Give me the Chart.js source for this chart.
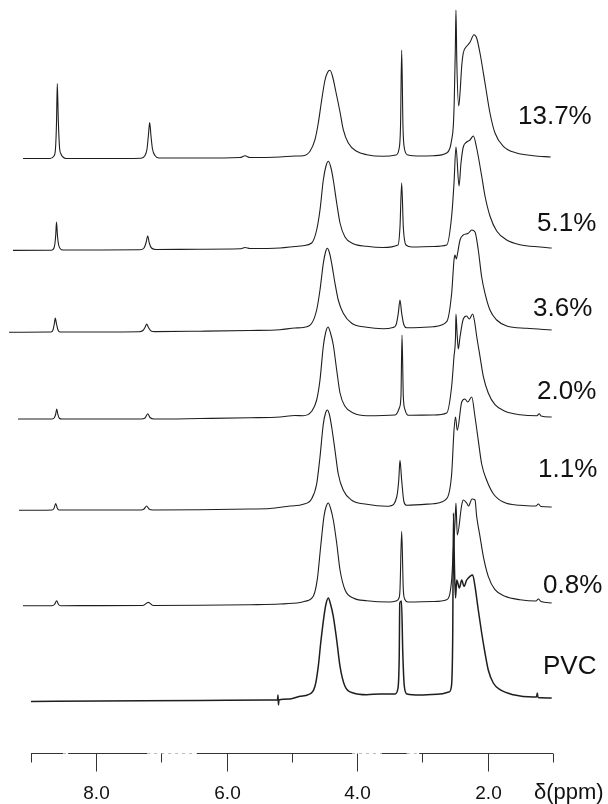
<!DOCTYPE html>
<html>
<head>
<meta charset="utf-8">
<script src="https://cdn.jsdelivr.net/npm/chart.js@4.4.1/dist/chart.umd.min.js"></script>
<style>
  html, body { margin: 0; padding: 0; background: #fff; }
  canvas { display: block; }
</style>
</head>
<body>
<canvas id="nmrChart" width="608" height="804"></canvas>
<script>
// 1H NMR spectra, stacked: [ppm, intensity above the trace baseline]

const traceLabels = ['13.7%', '5.1%', '3.6%', '2.0%', '1.1%', '0.8%', 'PVC'];
const traceOffsets = [647, 556, 474, 387, 297, 201, 106];

const spec137 = [
    [9.123,-1.5],[8.709,-1.5],[8.648,1],[8.625,8],[8.609,34],[8.597,73.5],[8.582,38],[8.563,10],[8.540,3],[8.510,0],[8.464,-1.5],
    [7.943,-1.5],[7.314,-1.2],[7.253,1.5],[7.222,8],[7.199,23],[7.181,34.5],[7.161,21],[7.138,8],[7.100,1.5],[7.038,-1],
    [6.410,-1],[5.797,-0.5],[5.720,1.2],[5.644,-0.5],[5.184,0],[4.954,1],
    [4.827,1.3],[4.724,5.7],[4.648,17.3],[4.597,34],[4.545,57],[4.494,77],[4.456,84.5],[4.418,86.7],[4.380,81],[4.330,66],[4.264,45],[4.214,27.3],[4.137,14],[4.009,5.7],[3.855,2.3],[3.605,0.7],
    [3.406,2],[3.360,8],[3.337,30],[3.319,107],[3.299,30],[3.276,8],[3.222,2],[3.038,1],
    [2.834,1.3],[2.629,4],[2.579,9],[2.553,17.3],[2.528,30.7],[2.513,57],[2.497,107],[2.487,147],[2.474,95],[2.445,51],[2.425,64],[2.399,90.7],[2.375,104],[2.323,110.7],[2.272,114.7],[2.211,122.3],[2.170,119],[2.119,104],[2.042,74],[1.966,44],[1.889,24],[1.761,10.7],[1.556,4],[1.302,1.3],[1.035,0]
];

const spec51 = [
    [9.276,-2.4],[8.709,-2.2],[8.678,-2],[8.648,0],[8.632,5],[8.620,14],[8.609,26],[8.594,12],[8.576,3],[8.548,-1],[8.510,-2],
    [7.943,-2],[7.330,-1.8],[7.268,0],[7.238,5],[7.211,12],[7.187,5],[7.153,0],[7.084,-1.5],
    [6.410,-1.2],[5.797,-0.8],[5.720,0.5],[5.644,-0.5],[5.184,0],[4.954,1.5],
    [4.831,2.3],[4.698,5],[4.622,18],[4.571,38],[4.520,68],[4.479,82],[4.443,86.7],[4.402,80],[4.367,68],[4.315,45],[4.264,25],[4.188,11],[4.060,4.3],[3.855,1.7],[3.605,0.5],
    [3.375,3],[3.345,21],[3.319,65],[3.294,21],[3.253,3],[3.161,1],
    [2.834,1.5],[2.629,3],[2.553,32],[2.517,65],[2.487,101],[2.440,62],[2.410,85],[2.375,101],[2.323,106],[2.272,108],[2.221,112],[2.170,100],[2.093,72],[2.042,52],[1.966,32],[1.863,17],[1.709,8],[1.506,3.3],[1.199,1],[1.020,0]
];

const spec36 = [
    [9.337,-2.3],[8.709,-2],[8.693,-2],[8.663,0],[8.643,6],[8.628,12],[8.609,6],[8.586,0],[8.556,-2],
    [7.943,-2],[7.345,-1.8],[7.284,-0.5],[7.249,3],[7.228,6],[7.199,2.5],[7.161,-1],[7.100,-1.6],
    [6.410,-1.2],[5.644,-0.5],[5.184,0.3],[4.954,2],
    [4.827,2.5],[4.698,6.7],[4.622,20],[4.571,40],[4.520,66.7],[4.486,78],[4.459,81.7],[4.425,77],[4.392,66.7],[4.341,46.7],[4.291,30],[4.214,16.7],[4.085,6.7],[3.855,2.7],[3.605,1.3],
    [3.452,2.5],[3.406,5],[3.371,16.7],[3.345,30],[3.319,16.7],[3.284,5],[3.242,2.3],[3.038,2.5],
    [2.834,3.3],[2.629,8.3],[2.553,36.7],[2.517,70],[2.502,75],[2.482,71],[2.464,76],[2.425,90],[2.375,95],[2.298,96.7],[2.246,100],[2.195,98],[2.145,80],[2.093,53],[2.042,36.7],[1.966,20],[1.863,10],[1.709,4],[1.403,1.7],[1.020,0]
];

const spec20 = [
    [9.199,-2],[8.678,-2],[8.640,-0.5],[8.621,3],[8.606,8],[8.589,3],[8.563,-1.5],[8.525,-2],
    [7.943,-2],[7.314,-2],[7.253,-1],[7.211,3.3],[7.176,-0.5],[7.115,-2],
    [6.410,-1.5],[5.644,-0.8],[5.184,0],[4.954,1.5],
    [4.831,1.3],[4.698,5.7],[4.622,17],[4.571,37],[4.520,70.7],[4.486,84],[4.448,90],[4.410,84],[4.367,72],[4.315,47],[4.264,24],[4.188,10.7],[4.060,4],[3.855,1.3],
    [3.421,2],[3.355,9],[3.330,20.7],[3.314,82],[3.294,20.7],[3.268,7.3],[3.217,1.7],
    [2.834,2],[2.629,4],[2.553,30.7],[2.517,60.7],[2.494,80],[2.487,103],[2.471,85],[2.451,68],[2.425,80],[2.375,98],[2.323,101],[2.283,98],[2.231,103],[2.203,96],[2.170,81],[2.119,60.7],[2.068,40.7],[1.992,24],[1.889,12.3],[1.736,5.7],[1.506,2.3],[1.245,1.3],[1.210,3.3],[1.184,1],[1.020,0]
];

const spec11 = [
    [9.184,-3.3],[8.678,-3],[8.648,-1.5],[8.621,3.5],[8.598,-1],[8.571,-3],
    [7.943,-3],[7.314,-3],[7.268,-2],[7.228,1],[7.192,-2],[7.130,-3],
    [6.410,-2.8],[5.644,-2],[5.337,-1.5],[5.031,1],
    [4.827,2.7],[4.698,8.3],[4.622,23],[4.571,50],[4.520,83],[4.486,94],[4.459,97],[4.425,92],[4.392,80],[4.341,56.7],[4.291,33],[4.214,16.7],[4.085,6.7],[3.855,2.7],[3.548,0.7],
    [3.498,1],[3.395,10],[3.364,26.7],[3.345,46.7],[3.319,26.7],[3.284,5],[3.242,1.7],
    [2.834,3.3],[2.629,8.3],[2.553,33],[2.517,76.7],[2.494,90],[2.467,76.7],[2.399,105],[2.349,108],[2.307,105],[2.246,110],[2.195,90],[2.145,66.7],[2.093,43],[2.016,26.7],[1.915,13.3],[1.762,5],[1.506,1.7],[1.261,1],[1.225,3],[1.184,0.5],[1.020,0]
];

const spec08 = [
    [9.123,-2.7],[8.678,-2.7],[8.640,-1.5],[8.606,2.3],[8.579,-1.5],[8.540,-2.7],
    [7.943,-2.6],[7.284,-2.5],[7.202,0.6],[7.130,-2.5],
    [6.410,-2.3],[5.644,-1.7],[5.184,-1],[4.877,0.5],
    [4.801,1.7],[4.674,6.7],[4.613,23.3],[4.560,56.7],[4.510,86.7],[4.479,96],[4.443,100],[4.410,95],[4.367,83],[4.315,60],[4.264,33],[4.188,13.3],[4.060,5],[3.855,2.3],[3.498,1],
    [3.406,2],[3.360,5],[3.345,13.3],[3.319,71.7],[3.294,13.3],[3.268,3.3],[3.222,1],
    [2.834,1.5],[2.629,3.3],[2.553,23.3],[2.528,53],[2.502,80],[2.487,100],[2.467,68],[2.399,98],[2.375,103],[2.323,100],[2.295,97],[2.241,104],[2.195,103],[2.170,86.7],[2.119,66.7],[2.068,46.7],[1.992,26.7],[1.889,13.3],[1.736,6.7],[1.506,3.3],[1.261,2],[1.225,4],[1.184,1.5],[1.020,0]
];

const specPVC = [
    [9.000,-3.4],[7.943,-3],[6.410,-2.5],[5.337,-2],[5.222,-2],[5.215,3],[5.207,-7],[5.200,-2],[5.031,-1],[4.877,1.7],
    [4.750,3.3],[4.648,11.7],[4.597,31.7],[4.560,55],[4.510,81.7],[4.479,94],[4.443,100],[4.410,94],[4.367,81.7],[4.315,58],[4.264,31.7],[4.188,11.7],[4.060,5],[3.855,3.3],[3.651,4],[3.498,4],
    [3.421,4],[3.375,10],[3.357,40],[3.348,95],[3.322,97],[3.302,45],[3.279,12],[3.238,4],[3.038,3],
    [2.732,4],[2.594,6],[2.556,12],[2.537,60],[2.525,185],[2.510,130],[2.494,100],[2.475,118],[2.435,110],[2.399,118],[2.364,111.7],[2.323,118],[2.272,121.7],[2.231,123],[2.195,111.7],[2.145,88],[2.093,65],[2.042,45],[1.992,28],[1.915,15],[1.812,8.3],[1.608,3.3],[1.302,1],[1.253,1],[1.240,5],[1.230,0.5],[1.020,0]
];

const spectra = [spec137, spec51, spec36, spec20, spec11, spec08, specPVC];

// axis ticks (ppm)
const tickValues = [9, 8, 7, 6, 5, 4, 3, 2, 1];
const tickLabels = ['', '8.0', '', '6.0', '', '4.0', '', '2.0', ''];
// stretches where the printed axis line is missing (ppm from, ppm to)
const axisGaps = [[8.51, 8.43], [7.22, 6.46], [4.08, 3.62], [3.24, 3.05]];

// layout of the text (pixels)
const axisLevel = 51;
const labelLeft = [518, 537, 533, 537, 538, 543, 543];
const labelRise = [33, 17, 14, 18, 30, 10, 24];

const FONT = "'Liberation Sans', Arial, Helvetica, sans-serif";

const datasets = spectra.map((spec, i) => ({
    label: traceLabels[i],
    data: spec.map(([p, h]) => ({ x: p, y: traceOffsets[i] + h })),
    borderColor: '#1e1e1e',
    borderWidth: i === spectra.length - 1 ? 1.5 : 1.1,
    backgroundColor: '#ffffff',
    fill: 'start',
    pointRadius: 0,
    cubicInterpolationMode: 'monotone',
    // lower traces sit in front of the upper ones
    order: spectra.length - i
}));

const nmrDecor = {
    id: 'nmrDecor',
    afterDraw(chart) {
        const { ctx, scales: { x, y } } = chart;
        ctx.save();

        // ppm axis, drawn piecewise between the gaps
        const ay = Math.round(y.getPixelForValue(axisLevel)) + 0.5;
        ctx.strokeStyle = '#333';
        ctx.lineWidth = 1;
        let from = tickValues[0];
        const pieces = [];
        axisGaps.forEach(([a, b]) => { pieces.push([from, a]); from = b; });
        pieces.push([from, tickValues[tickValues.length - 1]]);
        pieces.forEach(([a, b]) => {
            ctx.beginPath();
            ctx.moveTo(x.getPixelForValue(a), ay);
            ctx.lineTo(x.getPixelForValue(b), ay);
            ctx.stroke();
        });
        ctx.strokeStyle = '#bbb';
        axisGaps.forEach(([a, b]) => {
            ctx.beginPath();
            ctx.setLineDash([3, 4]);
            ctx.moveTo(x.getPixelForValue(a), ay);
            ctx.lineTo(x.getPixelForValue(b), ay);
            ctx.stroke();
        });
        ctx.setLineDash([]);
        ctx.strokeStyle = '#333';

        ctx.fillStyle = '#111';
        ctx.font = '19px ' + FONT;
        ctx.textAlign = 'center';
        ctx.textBaseline = 'alphabetic';
        tickValues.forEach((v, k) => {
            const px = Math.round(x.getPixelForValue(v)) + 0.5;
            const len = tickLabels[k] ? 18 : 9;
            ctx.beginPath();
            ctx.moveTo(px, ay);
            ctx.lineTo(px, ay + len);
            ctx.stroke();
            if (tickLabels[k]) ctx.fillText(tickLabels[k], px, ay + 45);
        });
        ctx.textAlign = 'left';
        ctx.font = '22px ' + FONT;
        ctx.fillText('\u03b4(ppm)', 534, ay + 45);

        // trace labels
        ctx.font = '26px ' + FONT;
        traceLabels.forEach((t, i) => {
            const base = y.getPixelForValue(traceOffsets[i]);
            ctx.fillText(t, labelLeft[i], base - labelRise[i]);
        });

        ctx.restore();
    }
};

new Chart(document.getElementById('nmrChart'), {
    type: 'line',
    data: { datasets: datasets },
    options: {
        responsive: false,
        devicePixelRatio: 1,
        animation: false,
        layout: { padding: 0 },
        plugins: {
            legend: { display: false },
            tooltip: { enabled: false }
        },
        scales: {
            x: { type: 'linear', reverse: true, min: 0.157, max: 9.475, display: false },
            y: { type: 'linear', min: 0, max: 804, display: false }
        }
    },
    plugins: [nmrDecor]
});
</script>
</body>
</html>
